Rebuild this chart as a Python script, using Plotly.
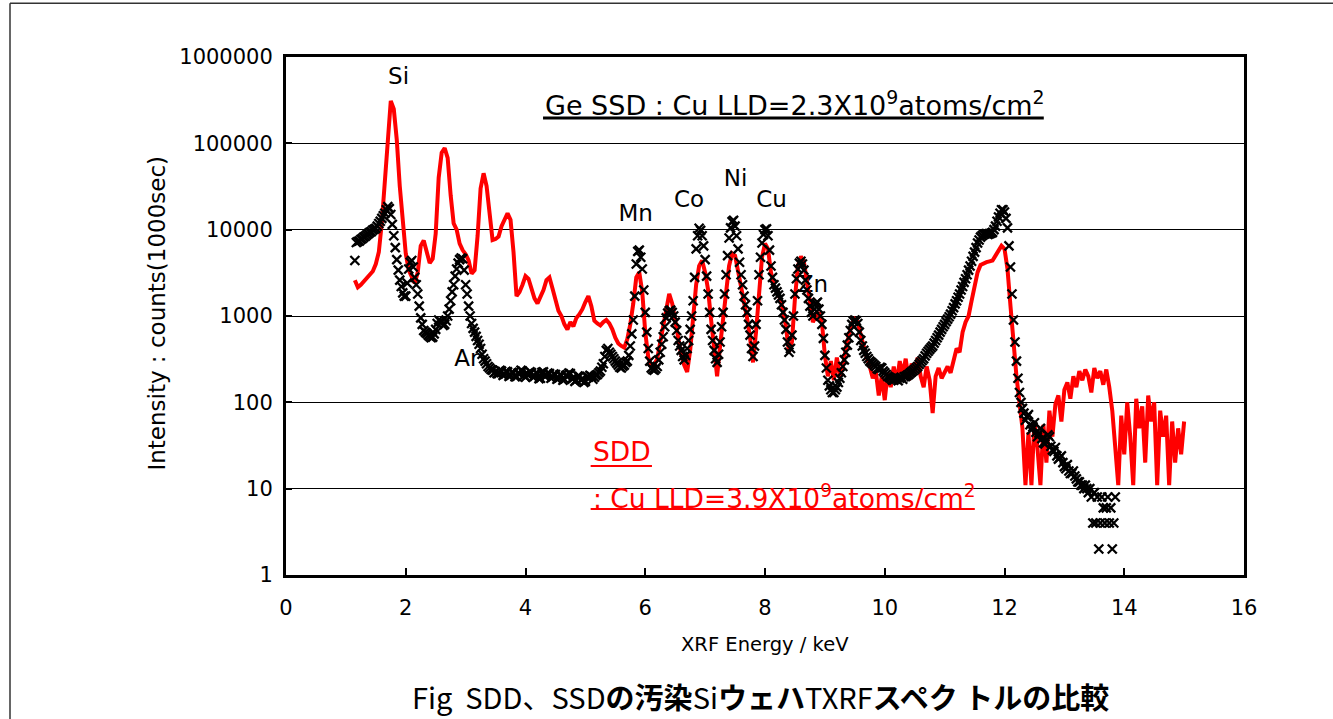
import plotly.graph_objects as go

# ---- SDD spectrum (red line), 0.05 keV channels from 1.15 keV ----
sdd_counts = [
    2600, 2150, 2300, 2500, 2800, 3000, 3300, 4000, 5500, 12000,      # 1.15-1.60
    40000, 130000, 310000, 250000, 110000, 32000, 11000, 5300, 3400, 2800,  # 1.65-2.10
    2400, 3200, 6500, 7500, 5600, 4100, 4600, 9000, 40000, 78000,     # 2.15-2.60
    88000, 68000, 25000, 11800, 10000, 6900, 5800, 5200, 4400, 3100,  # 2.65-3.10
    3400, 8500, 30000, 45000, 32000, 14000, 7600, 7800, 8300, 11000,  # 3.15-3.60
    13000, 15500, 13000, 5500, 1700, 1900, 2300, 2900, 2700, 2000,    # 3.65-4.10
    1600, 1400, 1650, 2000, 2600, 2800, 2100, 1600, 1150, 1000,       # 4.15-4.60
    800, 700, 850, 760, 950, 1050, 1200, 1450, 1700, 1300,            # 4.65-5.10
    880, 820, 780, 850, 900, 820, 700, 560, 480, 450,                 # 5.15-5.60
    430, 540, 800, 1400, 2800, 3200, 1900, 650, 335, 260,             # 5.65-6.10
    270, 320, 480, 750, 1050, 1800, 1400, 850, 575, 360,              # 6.15-6.60
    270, 225, 400, 1000, 2300, 3800, 4400, 3200, 2000, 900,           # 6.65-7.10
    380, 200, 450, 1000, 2200, 3800, 5300, 5000, 3300, 2200,          # 7.15-7.60
    1500, 950, 560, 290, 650, 2000, 4800, 6900, 6000, 3200,           # 7.65-8.10
    2200, 1900, 1600, 1200, 750, 380, 500, 1600, 3800, 4900,          # 8.15-8.60
    4200, 2500, 1500, 850, 1000, 1100, 850, 350, 200, 300,            # 8.65-9.10
    180, 330, 200, 260, 420, 600, 820, 920, 850, 600,                 # 9.15-9.60
    430, 330, 260, 190, 230, 120, 200, 106, 220, 150,                 # 9.65-10.10
    260, 170, 300, 210, 320, 180, 280, 220, 330, 200,                 # 10.15-10.60
    150, 260, 180, 75, 200, 250, 190, 230, 260, 220,                  # 10.65-11.10
    300, 420, 380, 650, 850, 1000, 1500, 2300, 3200, 3900,            # 11.15-11.60
    4100, 4200, 4300, 4400, 5000, 5800, 6500, 6000, 3500, 1300,       # 11.65-12.10
    450, 200, 100, 50, 11, 45, 11, 60, 30, 11,                        # 12.15-12.60
    55, 20, 80, 40, 95, 120, 60, 140, 170, 110,                       # 12.65-13.10
    200, 150, 230, 180, 240, 200, 130, 250, 190, 230,                 # 13.15-13.60
    160, 240, 150, 80, 30, 11, 70, 25, 100, 40,                       # 13.65-14.10
    11, 110, 50, 90, 20, 120, 60, 100, 11, 80,                        # 14.15-14.60
    40, 70, 11, 60, 20, 50, 25, 60,                                   # 14.65-15.00
]
sdd_energy = [round(1.15 + 0.05 * i, 3) for i in range(len(sdd_counts))]

# ---- Ge SSD spectrum (black crosses), 0.025 keV channels from 1.15 keV ----
ssd_counts = [
    # 1.150-1.625
    4400, 7100, 7300, 7400, 7700, 7900, 8200, 8400, 8700, 9000,
    9300, 9500, 9900, 10100, 10400, 11000, 11800, 12500, 13500, 14500,
    # 1.650-2.125
    15500, 17000, 18500, 17500, 15000, 11500, 8500, 6200, 4500, 3400,
    2600, 2200, 1850, 1700, 1700, 2400, 3500, 4200, 4400, 3700,
    # 2.150-2.625
    2800, 2300, 1800, 1300, 950, 800, 680, 650, 630, 600,
    580, 560, 570, 620, 700, 820, 900, 870, 850, 780,
    # 2.650-3.125
    800, 880, 1000, 1200, 1500, 1900, 2300, 2900, 3500, 4100,
    4500, 4700, 4600, 3400, 2300, 1800, 1300, 1000, 820, 720,
    # 3.150-3.625
    650, 580, 520, 470, 420, 360, 320, 300, 280, 260,
    250, 240, 235, 220, 225, 215, 215, 235, 230, 205,
    # 3.650-4.125
    210, 228, 225, 200, 205, 222, 220, 198, 200, 218,
    215, 235, 230, 205, 195, 212, 210, 226, 220, 195,
    # 4.150-4.625
    200, 220, 215, 188, 190, 222, 225, 200, 205, 218,
    215, 190, 195, 212, 210, 185, 190, 208, 205, 180,
    # 4.650-5.125
    185, 205, 200, 218, 215, 188, 190, 175, 180, 202,
    200, 182, 185, 170, 175, 198, 195, 205, 200, 185,
    # 5.150-5.625
    195, 205, 210, 220, 230, 255, 280, 340, 400, 420,
    380, 360, 340, 320, 300, 285, 270, 255, 250, 262,
    # 5.650-6.125
    270, 290, 300, 350, 450, 620, 900, 1700, 4000, 5600,
    5800, 4800, 3500, 2000, 1100, 650, 420, 300, 250, 240,
    # 6.150-6.625
    235, 245, 260, 310, 380, 470, 575, 750, 950, 1080,
    1150, 1170, 1100, 1000, 850, 680, 520, 450, 400, 340,
    # 6.650-7.125
    310, 350, 420, 520, 700, 1000, 1500, 2800, 6000, 8500,
    10400, 9800, 8500, 6500, 4500, 2900, 1800, 1100, 700, 520,
    # 7.150-7.625
    400, 320, 290, 360, 500, 750, 1100, 1800, 3000, 5000,
    8000, 10500, 12400, 12800, 11000, 8500, 6000, 4200, 3000, 2300,
    # 7.650-8.125
    1700, 1350, 1100, 800, 600, 420, 340, 450, 800, 1500,
    3000, 4800, 7000, 8800, 10000, 10200, 8500, 5800, 3800, 2800,
    # 8.150-8.625
    2300, 2100, 1900, 1750, 1600, 1350, 1100, 900, 700, 500,
    380, 420, 600, 1000, 1800, 2700, 3500, 4100, 4300, 4000,
    # 8.650-9.125
    3400, 2600, 2000, 1600, 1300, 1100, 1000, 1200, 1400, 1450,
    1200, 1000, 800, 550, 350, 250, 180, 155, 140, 130,
    # 9.150-9.625
    130, 140, 150, 170, 190, 220, 260, 310, 380, 460,
    560, 680, 800, 870, 900, 880, 820, 650, 520, 450,
    # 9.650-10.125
    400, 370, 340, 320, 300, 290, 280, 270, 260, 245,
    240, 255, 250, 230, 220, 210, 200, 195, 190, 182,
    # 10.150-10.625
    180, 190, 185, 178, 190, 195, 185, 198, 200, 205,
    210, 218, 225, 232, 240, 250, 260, 275, 290, 305,
    # 10.650-11.125
    320, 345, 370, 390, 410, 430, 450, 485, 520, 560,
    600, 650, 700, 750, 800, 860, 920, 980, 1050, 1150,
    # 11.150-11.625
    1250, 1380, 1500, 1650, 1800, 2000, 2200, 2450, 2700, 3000,
    3400, 3800, 4300, 4900, 5500, 6200, 7000, 7600, 8200, 8500,
    # 11.650-12.125
    8800, 8900, 9000, 8800, 9000, 9100, 9300, 10000, 11000, 12500,
    14000, 15500, 17000, 17000, 16000, 13500, 10500, 6500, 3700, 1800,
    # 12.150-12.625
    900, 500, 300, 190, 130, 100, 85, 75, 62, 68,
    72, 55, 48, 52, 58, 45, 40, 44, 50, 38,
    # 12.650-13.125
    34, 33, 36, 42, 40, 31, 28, 27, 30, 24,
    22, 23, 24, 20, 18, 17, 19, 16, 15, 15,
    # 13.150-13.625
    16, 14, 13, 12, 12, 11, 11, 10, 11, 10,
    9, 10, 8, 4, 9, 4, 8, 2, 4, 8,
    # 13.650-13.850
    6, 4, 6, 8, 4, 6, 2, 4, 8,
]
ssd_energy = [round(1.15 + 0.025 * i, 3) for i in range(len(ssd_counts))]

# ---- peak labels ----
peak_labels = ["Si", "Ar", "Mn", "Co", "Ni", "Cu", "Zn"]
peak_label_energy = [1.88, 3.02, 5.84, 6.73, 7.51, 8.11, 8.80]
peak_label_counts = [560000, 310, 14800, 21400, 37000, 21400, 2200]

y_tick_values = [1, 10, 100, 1000, 10000, 100000, 1000000]
y_tick_text = ["1", "10", "100", "1000", "10000", "100000", "1000000"]
x_tick_values = [0, 2, 4, 6, 8, 10, 12, 14, 16]

LATIN = "DejaVu Sans"
CJK = "Noto Sans CJK JP"
NB = "\u00a0"

fig = go.Figure()

# labels go first so the spectra are drawn over them
fig.add_trace(go.Scatter(
    x=peak_label_energy, y=peak_label_counts, mode="text", text=peak_labels,
    textfont=dict(family=LATIN, size=23, color="black"),
    textposition="middle center", cliponaxis=False, hoverinfo="skip",
    showlegend=False,
))

fig.add_trace(go.Scatter(
    x=sdd_energy, y=sdd_counts, mode="lines", name="SDD",
    line=dict(color="#ff0000", width=4), showlegend=False,
))

fig.add_trace(go.Scatter(
    x=ssd_energy, y=ssd_counts, mode="markers", name="Ge SSD",
    marker=dict(symbol="x-thin", size=9, color="black",
                line=dict(width=2.3, color="black")),
    showlegend=False,
))

tick_font = dict(family=LATIN, size=21, color="black")

fig.update_xaxes(
    range=[0, 16], tickvals=x_tick_values, showline=True, linecolor="black",
    linewidth=3, mirror=True, ticks="inside", ticklen=7, tickwidth=1.5,
    tickcolor="black", showgrid=False, zeroline=False, tickfont=tick_font,
    ticklabelstandoff=12,
)
fig.update_yaxes(
    type="log", range=[0, 6], tickvals=y_tick_values, ticktext=y_tick_text,
    showline=True, linecolor="black", linewidth=3, mirror=True,
    ticks="inside", ticklen=6, tickwidth=1.5, tickcolor="black",
    showgrid=True, gridcolor="black", gridwidth=1, zeroline=False,
    tickfont=tick_font, ticklabelstandoff=6,
)

annotations = [
    dict(text="XRF Energy / keV", x=0.5, y=-0.135, xref="paper", yref="paper",
         showarrow=False, font=dict(family=LATIN, size=19.5, color="black"),
         xanchor="center", yanchor="middle"),
    dict(text="Intensity : counts(1000sec)", x=-0.135, y=0.506,
         xref="paper", yref="paper", textangle=-90, showarrow=False,
         font=dict(family=LATIN, size=23, color="black"),
         xanchor="center", yanchor="middle"),
    dict(text="Ge SSD : Cu LLD=2.3X10<sup>9</sup>atoms/cm<sup>2</sup>",
         x=0.2683, y=0.911, xref="paper", yref="paper", showarrow=False,
         font=dict(family=LATIN, size=27, color="black"),
         xanchor="left", yanchor="middle"),
    dict(text="SDD", x=0.318, y=0.2375, xref="paper", yref="paper",
         showarrow=False, font=dict(family=LATIN, size=26.5, color="#ff0000"),
         xanchor="left", yanchor="middle"),
    dict(text=": Cu LLD=3.9X10<sup>9</sup>atoms/cm<sup>2</sup>", x=0.318,
         y=0.1506, xref="paper", yref="paper", showarrow=False,
         font=dict(family=LATIN, size=26.5, color="#ff0000"),
         xanchor="left", yanchor="middle"),
    dict(text="Fig" + NB + NB + "SDD、SSD<b>の汚染</b>Si<b>ウェハ</b>TXRF<b>スペク"
              + NB + "トルの比較</b>",
         x=0.495, y=-0.233, xref="paper", yref="paper", showarrow=False,
         font=dict(family=CJK, size=29, color="black"),
         xanchor="center", yanchor="middle"),
]

shapes = [
    # underlines of the two detector notes
    dict(type="line", xref="paper", yref="paper", x0=0.2683, x1=0.791,
         y0=0.882, y1=0.882, line=dict(color="black", width=3)),
    dict(type="line", xref="paper", yref="paper", x0=0.318, x1=0.382,
         y0=0.2104, y1=0.2104, line=dict(color="#ff0000", width=2)),
    dict(type="line", xref="paper", yref="paper", x0=0.318, x1=0.719,
         y0=0.1274, y1=0.1274, line=dict(color="#ff0000", width=2)),
    # outer figure frame
    dict(type="line", xref="paper", yref="paper", x0=-0.2881, x1=-0.2881,
         y0=1.104, y1=-0.30, line=dict(color="#333333", width=1.5)),
    dict(type="line", xref="paper", yref="paper", x0=-0.2881, x1=1.10,
         y0=1.104, y1=1.104, line=dict(color="#333333", width=1.5)),
]

fig.update_layout(
    width=1333, height=719, autosize=False,
    margin=dict(l=286, r=89, t=57, b=144),
    paper_bgcolor="white", plot_bgcolor="white",
    annotations=annotations, shapes=shapes, showlegend=False,
)

fig.write_html("out.html")
